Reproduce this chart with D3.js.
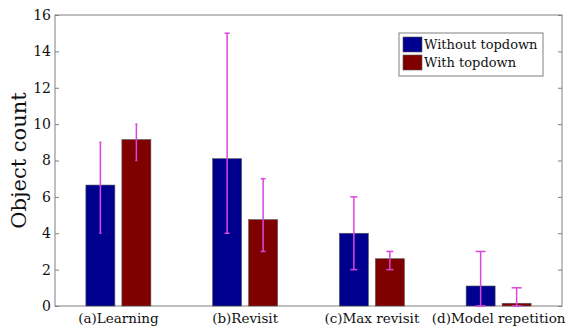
<!DOCTYPE html>
<html>
<head>
<meta charset="utf-8">
<script src="https://cdn.jsdelivr.net/npm/d3@7"></script>
<style>
    body { margin: 0; background: #fff; }
    svg { display: block; }
    text { font-family: 'DejaVu Serif', serif; }
</style>
</head>
<body>
<svg id="chart"></svg>
<script>
const categories = ['(a)Learning', '(b)Revisit', '(c)Max revisit', '(d)Model repetition']
const seriesNames = ['Without topdown', 'With topdown']
const withoutValues = [6.65, 8.1, 4.0, 1.1]
const withValues = [9.15, 4.75, 2.6, 0.15]
const withoutLow = [4, 4, 2, 0]
const withoutHigh = [9, 15, 6, 3]
const withLow = [8, 3, 2, 0]
const withHigh = [10, 7, 3, 1]
const yTicks = [0, 2, 4, 6, 8, 10, 12, 14, 16]

const width = 573
const height = 332
const margin = { top: 15, right: 11, bottom: 26, left: 55 }
const colors = ['#00008f', '#800000']
const errColor = '#dd44dd'
const capWidths = [2, 5, 7, 10]

const svg = d3.select('#chart').attr('width', width).attr('height', height)

const x = d3.scaleBand()
    .domain(categories)
    .range([margin.left, width - margin.right])
    .padding(0)

const y = d3.scaleLinear()
    .domain([0, 16])
    .range([height - margin.bottom, margin.top])

const barW = 29
const offset = 18

// frame
svg.append('rect')
    .attr('x', margin.left)
    .attr('y', margin.top)
    .attr('width', width - margin.left - margin.right)
    .attr('height', height - margin.top - margin.bottom)
    .attr('fill', 'none')
    .attr('stroke', '#808080')
    .attr('stroke-width', 1)

// left axis, ticks inside
const yLeft = svg.append('g')
    .attr('transform', 'translate(' + margin.left + ',0)')
    .call(d3.axisLeft(y).tickValues(yTicks).tickSize(-4).tickPadding(4))
yLeft.select('.domain').remove()
yLeft.selectAll('line').attr('stroke', '#808080')
yLeft.selectAll('text')
    .style('font-size', '14px')
    .style('font-family', "'DejaVu Serif', serif")
    .attr('fill', '#111')

// right axis ticks
const yRight = svg.append('g')
    .attr('transform', 'translate(' + (width - margin.right) + ',0)')
    .call(d3.axisRight(y).tickValues(yTicks).tickSize(-4).tickFormat(''))
yRight.select('.domain').remove()
yRight.selectAll('line').attr('stroke', '#808080')

// x labels
const xAxis = svg.append('g')
    .attr('transform', 'translate(0,' + (height - margin.bottom) + ')')
    .call(d3.axisBottom(x).tickSize(0).tickPadding(7))
xAxis.select('.domain').remove()
xAxis.selectAll('text')
    .style('font-size', '13.5px')
    .style('font-family', "'DejaVu Serif', serif")
    .attr('fill', '#111')

// y label
svg.append('text')
    .attr('transform', 'translate(26,' + (margin.top + (height - margin.top - margin.bottom) / 2) + ') rotate(-90)')
    .attr('text-anchor', 'middle')
    .style('font-size', '21px')
    .attr('fill', '#111')
    .text('Object count')

const series = [
    { values: withoutValues, low: withoutLow, high: withoutHigh, dx: -offset, color: colors[0] },
    { values: withValues, low: withLow, high: withHigh, dx: offset, color: colors[1] }
]

series.forEach(function (s) {
    const g = svg.append('g')
    const cx = function (d, i) { return x(categories[i]) + x.bandwidth() / 2 + s.dx }

    g.selectAll('rect')
        .data(s.values)
        .enter()
        .append('rect')
        .attr('x', function (d, i) { return cx(d, i) - barW / 2 })
        .attr('y', function (d) { return y(d) })
        .attr('width', barW)
        .attr('height', function (d) { return y(0) - y(d) })
        .attr('fill', s.color)
        .attr('stroke', '#555')
        .attr('stroke-width', 0.6)

    g.selectAll('line.err')
        .data(s.values)
        .enter()
        .append('line')
        .attr('class', 'err')
        .attr('x1', cx)
        .attr('x2', cx)
        .attr('y1', function (d, i) { return y(s.low[i]) })
        .attr('y2', function (d, i) { return y(s.high[i]) })
        .attr('stroke', errColor)
        .attr('stroke-width', 1.5)

    ;['low', 'high'].forEach(function (k) {
        g.selectAll('line.cap-' + k)
            .data(s.values)
            .enter()
            .append('line')
            .attr('class', 'cap-' + k)
            .attr('x1', function (d, i) { return cx(d, i) - capWidths[i] / 2 })
            .attr('x2', function (d, i) { return cx(d, i) + capWidths[i] / 2 })
            .attr('y1', function (d, i) { return y(s[k][i]) })
            .attr('y2', function (d, i) { return y(s[k][i]) })
            .attr('stroke', errColor)
            .attr('stroke-width', 1.5)
    })
})

// legend
const legend = svg.append('g').attr('transform', 'translate(399,33)')
legend.append('rect')
    .attr('width', 144)
    .attr('height', 43)
    .attr('fill', '#fff')
    .attr('stroke', '#808080')

seriesNames.forEach(function (name, i) {
    legend.append('rect')
        .attr('x', 4)
        .attr('y', 4 + i * 18)
        .attr('width', 19)
        .attr('height', 15)
        .attr('fill', colors[i])
        .attr('stroke', '#555')
        .attr('stroke-width', 0.6)
    legend.append('text')
        .attr('x', 25)
        .attr('y', 16 + i * 18)
        .style('font-size', '13px')
        .attr('fill', '#111')
        .text(name)
})
</script>
</body>
</html>
